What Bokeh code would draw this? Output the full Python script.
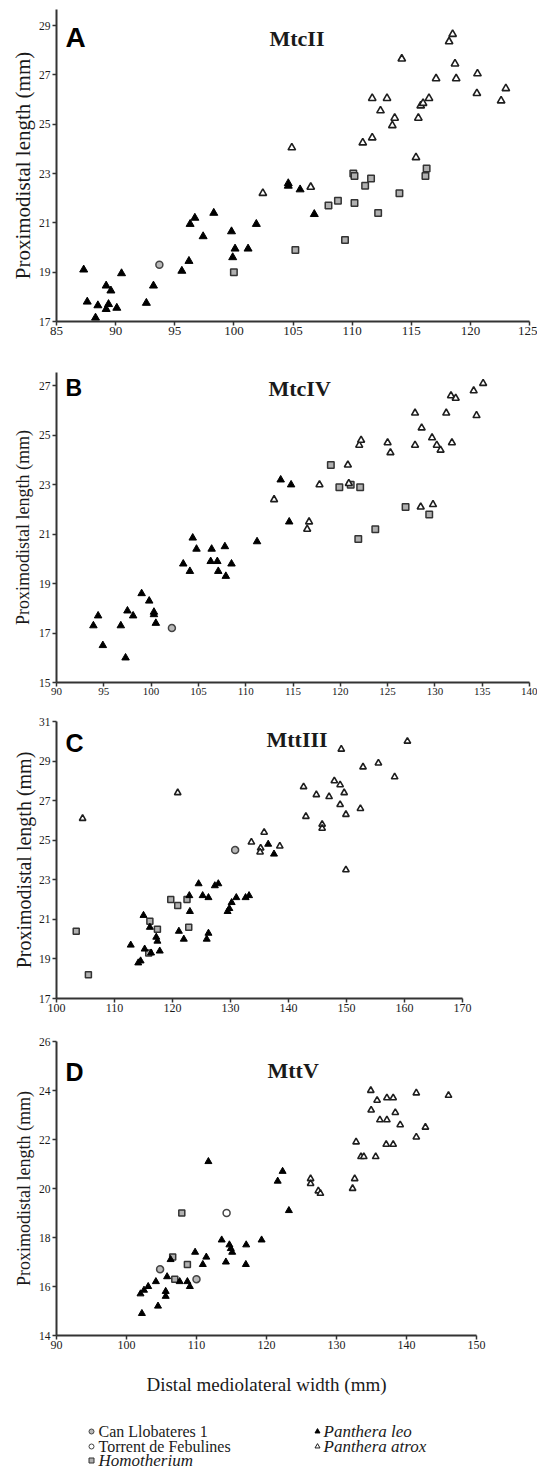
from bokeh.plotting import figure
from bokeh.layouts import column
from bokeh.models import Range1d, FixedTicker, Label
from bokeh.embed import file_html
from bokeh.resources import INLINE

# ---------------- data ----------------
# Panel A : MtcII
A_leo_x = [87.3, 87.6, 88.5, 88.3, 89.2, 89.4, 89.2, 89.6, 90.1, 90.5, 92.6, 93.2, 95.6, 96.2, 96.3, 96.7, 97.4, 98.3, 99.8, 99.9,
           100.1, 101.2, 101.9, 104.6, 104.6, 105.6, 106.8]
A_leo_y = [19.1, 17.8, 17.65, 17.15, 18.45, 17.7, 17.5, 18.25, 17.55, 18.95, 17.75, 18.45, 19.05, 19.45, 20.95, 21.2, 20.45, 21.4, 20.65, 19.6,
           19.95, 19.95, 20.95, 22.6, 22.5, 22.35, 21.35]
A_atrox_x = [102.45, 104.9, 106.5, 110.9, 111.7, 111.7, 112.4, 112.95, 113.4, 113.6, 114.2, 115.4, 115.6, 115.8, 116.0, 116.5, 117.1,
             118.2, 118.5, 118.7, 118.8, 120.55, 120.6, 122.6, 123.0]
A_atrox_y = [22.2, 24.05, 22.45, 24.25, 24.45, 26.05, 25.55, 26.05, 24.95, 25.25, 27.65, 23.65, 25.25, 25.75, 25.85, 26.05, 26.85,
             28.35, 28.65, 27.45, 26.85, 26.25, 27.05, 25.95, 26.45]
A_homo_x = [100.0, 105.2, 108.0, 108.8, 109.4, 110.1, 110.2, 110.2, 111.1, 111.6, 112.2, 114.0, 116.2, 116.3]
A_homo_y = [19.0, 19.9, 21.7, 21.9, 20.3, 23.0, 22.9, 21.8, 22.5, 22.8, 21.4, 22.2, 22.9, 23.2]
A_cl_x = [93.7]
A_cl_y = [19.3]
A_xticks = [85, 90, 95, 100, 105, 110, 115, 120, 125]
A_yticks = [17, 19, 21, 23, 25, 27, 29]

# Panel B : MtcIV
B_leo_x = [93.9, 94.4, 94.9, 96.8, 97.3, 97.5, 98.1, 99.0, 99.8, 100.3, 100.3, 100.5, 103.4, 104.1, 104.4, 104.8, 106.4, 106.3,
           107.0, 107.1, 107.8, 107.9, 108.5, 111.2, 113.7, 114.8, 114.6]
B_leo_y = [17.3, 17.7, 16.5, 17.3, 16.0, 17.9, 17.7, 18.6, 18.3, 17.85, 17.75, 17.4, 19.8, 19.5, 20.85, 20.4, 20.4, 19.9,
           19.9, 19.5, 20.5, 19.3, 19.8, 20.7, 23.2, 23.0, 21.5]
B_atrox_x = [113.0, 116.7, 116.5, 117.8, 120.8, 120.9, 122.0, 122.2, 125.0, 125.3, 127.9, 127.9, 128.6, 129.7, 130.2, 130.6,
             131.2, 131.8, 131.7, 132.2, 134.1, 135.1, 134.4, 128.5, 129.8]
B_atrox_y = [22.4, 21.5, 21.2, 23.0, 23.8, 23.05, 24.6, 24.8, 24.7, 24.3, 25.9, 24.6, 25.3, 24.9, 24.6, 24.4,
             25.9, 24.7, 26.6, 26.5, 26.8, 27.1, 25.8, 22.1, 22.2]
B_homo_x = [119.0, 119.9, 121.1, 122.1, 126.9, 129.4, 123.7, 121.9]
B_homo_y = [23.8, 22.9, 23.0, 22.9, 22.1, 21.8, 21.2, 20.8]
B_cl_x = [102.2]
B_cl_y = [17.2]
B_xticks = [90, 95, 100, 105, 110, 115, 120, 125, 130, 135, 140]
B_yticks = [15, 17, 19, 21, 23, 25, 27]

# Panel C : MttIII
C_leo_x = [136.5, 137.5, 133.2, 132.6, 131.0, 130.2, 129.8, 129.5, 127.9, 127.3, 124.5, 125.2, 126.2, 122.9, 123.0, 121.1,
           121.95, 126.2, 125.9, 112.8, 115.0, 116.1, 115.2, 114.1, 114.5, 117.2, 117.4, 116.3, 117.8]
C_leo_y = [24.8, 24.3, 22.2, 22.1, 22.1, 21.85, 21.55, 21.4, 22.8, 22.7, 22.8, 22.2, 22.1, 22.2, 21.4, 20.4,
           20.0, 20.3, 20.0, 19.7, 21.2, 20.6, 19.5, 18.8, 18.9, 20.1, 19.9, 19.3, 19.4]
C_atrox_x = [104.5, 120.9, 133.6, 135.8, 135.2, 135.1, 138.5, 142.6, 143.0, 144.8, 145.8, 145.8, 147.0, 147.9, 148.9, 149.1,
             149.6, 148.9, 149.9, 149.9, 152.4, 152.85, 155.5, 158.3, 160.5]
C_atrox_y = [26.1, 27.4, 24.9, 25.4, 24.6, 24.4, 24.7, 27.7, 26.2, 27.3, 25.8, 25.6, 27.2, 28.0, 27.8, 29.6,
             27.4, 26.8, 26.3, 23.5, 26.6, 28.7, 28.9, 28.2, 30.0]
C_homo_x = [103.4, 105.5, 116.1, 117.4, 115.9, 119.7, 120.9, 122.5, 122.8]
C_homo_y = [20.4, 18.2, 20.9, 20.5, 19.3, 22.0, 21.7, 22.0, 20.6]
C_cl_x = [130.8]
C_cl_y = [24.5]
C_xticks = [100, 110, 120, 130, 140, 150, 160, 170]
C_yticks = [17, 19, 21, 23, 25, 27, 29, 31]

# Panel D : MttV
D_leo_x = [102.2, 104.5, 102.0, 102.5, 103.1, 104.2, 105.6, 105.6, 105.8, 106.3, 107.6, 108.7, 109.05, 109.8, 110.9, 111.4,
           111.7, 113.6, 114.2, 114.7, 114.9, 115.1, 117.1, 117.05, 119.3, 121.6, 122.3, 123.2]
D_leo_y = [14.9, 15.2, 15.7, 15.85, 16.0, 16.2, 15.6, 15.8, 16.4, 17.1, 16.2, 16.2, 16.0, 17.4, 16.9, 17.2,
           21.1, 17.9, 17.0, 17.7, 17.55, 17.4, 17.7, 16.9, 17.9, 20.3, 20.7, 19.1]
D_atrox_x = [134.9, 135.8, 137.2, 138.1, 141.4, 146.0, 134.95, 138.4, 136.2, 137.2, 139.1, 142.7, 141.4, 132.8, 137.1, 138.1,
             133.5, 133.9, 135.6, 126.3, 126.3, 127.4, 127.7, 132.6, 132.3]
D_atrox_y = [24.0, 23.6, 23.7, 23.7, 23.9, 23.8, 23.2, 23.1, 22.8, 22.8, 22.6, 22.5, 22.1, 21.9, 21.8, 21.8,
             21.3, 21.3, 21.3, 20.4, 20.2, 19.9, 19.8, 20.4, 20.0]
D_homo_x = [107.9, 106.6, 106.9, 108.7]
D_homo_y = [19.0, 17.2, 16.3, 16.9]
D_cl_x = [104.8, 110.0]
D_cl_y = [16.7, 16.3]
D_tf_x = [114.3]
D_tf_y = [19.0]
D_xticks = [90, 100, 110, 120, 130, 140, 150]
D_yticks = [14, 16, 18, 20, 22, 24, 26]

Y_LABEL = "Proximodistal length (mm)"
X_LABEL = "Distal mediolateral width (mm)"
LEGEND_KEYS = ["cl", "tf", "homo", "leo", "atrox"]
LEGEND_NAMES = ["Can Llobateres 1", "Torrent de Febulines", "Homotherium", "Panthera leo", "Panthera atrox"]
LEGEND_ITALIC = [False, False, True, True, True]

# ---------------- styles ----------------
SERIF = "Liberation Serif"
SANS = "Liberation Sans"
AX = "#333333"
TXT = "#1a1a1a"
STY = {
    "leo": dict(marker="triangle", fill_color="black", line_color="black", line_width=1),
    "atrox": dict(marker="triangle", fill_color="white", line_color="#1e1e1e", line_width=1.6),
    "homo": dict(marker="square", fill_color="#b0b0b0", line_color="#333333", line_width=1.5),
    "cl": dict(marker="circle", fill_color="#b8b8b8", line_color="#444444", line_width=1.5),
    "tf": dict(marker="circle", fill_color="white", line_color="#444444", line_width=1.5),
}
W = 537
LEFT = 56


def panel(xr, yr, xticks, yticks, fw, fh, top, bottom, letter, lsize, lbase, title, tx, tbase,
          ylab_size, ylab_standoff, xtick_size, series):
    p = figure(output_backend="svg", toolbar_location=None,
               frame_width=fw, frame_height=fh,
               x_range=Range1d(*xr), y_range=Range1d(*yr),
               min_border_left=LEFT, min_border_right=W - LEFT - fw,
               min_border_top=top, min_border_bottom=bottom)
    p.grid.visible = False
    p.outline_line_color = None
    p.xaxis.ticker = FixedTicker(ticks=xticks)
    p.yaxis.ticker = FixedTicker(ticks=yticks)
    for ax in (p.xaxis, p.yaxis):
        ax.axis_line_color = AX
        ax.axis_line_width = 2
        ax.major_tick_line_color = AX
        ax.major_tick_line_width = 1.5
        ax.major_tick_out = 4
        ax.major_tick_in = 0
        ax.minor_tick_line_color = None
        ax.major_label_text_font = SERIF
        ax.major_label_text_color = TXT
    p.xaxis.major_label_text_font_size = f"{xtick_size}px"
    p.yaxis.major_label_text_font_size = "11.5px"
    p.xaxis.major_label_standoff = 1
    p.yaxis.major_label_standoff = 2
    p.yaxis.axis_label = Y_LABEL
    p.yaxis.axis_label_text_font = SERIF
    p.yaxis.axis_label_text_font_style = "normal"
    p.yaxis.axis_label_text_font_size = f"{ylab_size}px"
    p.yaxis.axis_label_text_color = TXT
    p.yaxis.axis_label_standoff = ylab_standoff
    for key, xs, ys, size in series:
        p.scatter(xs, ys, size=size, **STY[key])
    p.add_layout(Label(x=9, y=fh - lbase, x_units="screen", y_units="screen", text=letter,
                       text_font=SANS, text_font_style="bold", text_font_size=f"{lsize}px",
                       text_color="black", text_baseline="alphabetic", text_align="left"))
    p.add_layout(Label(x=tx, y=fh - tbase, x_units="screen", y_units="screen", text=title,
                       text_font=SERIF, text_font_style="bold", text_font_size="22px",
                       text_color=TXT, text_baseline="alphabetic", text_align="left"))
    return p


pA = panel((85, 125), (17, 29.65), A_xticks, A_yticks, 473, 312, 9, 40, "A", 28, 28, "MtcII", 213, 29,
           21, 1, 13,
           [("homo", A_homo_x, A_homo_y, 6.5), ("cl", A_cl_x, A_cl_y, 7),
            ("atrox", A_atrox_x, A_atrox_y, 7.5), ("leo", A_leo_x, A_leo_y, 8)])
pB = panel((90, 140), (15, 27.54), B_xticks, B_yticks, 473, 310, 11, 27, "B", 23, 15, "MtcIV", 212, 16,
           18, 3, 11,
           [("homo", B_homo_x, B_homo_y, 6.5), ("cl", B_cl_x, B_cl_y, 7),
            ("atrox", B_atrox_x, B_atrox_y, 7), ("leo", B_leo_x, B_leo_y, 7.5)])
pC = panel((100, 170), (17, 31), C_xticks, C_yticks, 406, 277, 12, 31, "C", 25, 21, "MttIII", 210, 18,
           20, 1, 12,
           [("homo", C_homo_x, C_homo_y, 6), ("cl", C_cl_x, C_cl_y, 7),
            ("atrox", C_atrox_x, C_atrox_y, 6.5), ("leo", C_leo_x, C_leo_y, 7)])
pD = panel((90, 150), (14, 26), D_xticks, D_yticks, 420, 294, 12, 64, "D", 25, 30, "MttV", 211, 29,
           18, 2, 12,
           [("homo", D_homo_x, D_homo_y, 6), ("cl", D_cl_x, D_cl_y, 7), ("tf", D_tf_x, D_tf_y, 7),
            ("atrox", D_atrox_x, D_atrox_y, 6.5), ("leo", D_leo_x, D_leo_y, 7)])
pD.xaxis.axis_label = X_LABEL
pD.xaxis.axis_label_text_font = SERIF
pD.xaxis.axis_label_text_font_style = "normal"
pD.xaxis.axis_label_text_font_size = "19px"
pD.xaxis.axis_label_text_color = TXT
pD.xaxis.axis_label_standoff = 22

# ---------------- legend strip (pixel-unit canvas, frame aligned with panels) ----------------
HE = 70
FW_E = W - LEFT
pE = figure(output_backend="svg", toolbar_location=None, frame_width=FW_E, frame_height=HE,
            x_range=Range1d(0, FW_E), y_range=Range1d(0, HE),
            x_axis_location=None, y_axis_location=None,
            min_border_left=LEFT, min_border_right=0, min_border_top=0, min_border_bottom=0)
pE.grid.visible = False
pE.outline_line_color = None

# legend slots: (marker x, text x, row centre measured from strip bottom), relative to frame left
leg_slots = [(35, 42, 38), (35, 42, 23), (35, 42, 9), (261, 267, 38), (261, 267, 23)]
for key, name, ital, (mx, tx, cy) in zip(LEGEND_KEYS, LEGEND_NAMES, LEGEND_ITALIC, leg_slots):
    st = dict(STY[key])
    st["line_width"] = 1
    pE.scatter([mx], [cy], size=5, **st)
    pE.add_layout(Label(x=tx, y=cy, text=name, text_font=SERIF,
                        text_font_style="italic" if ital else "normal",
                        text_font_size="17px" if ital else "16px",
                        text_color=TXT, text_baseline="middle", text_align="left"))

layout = column(pA, pB, pC, pD, pE)
open("out.html", "w").write(file_html(layout, INLINE))
